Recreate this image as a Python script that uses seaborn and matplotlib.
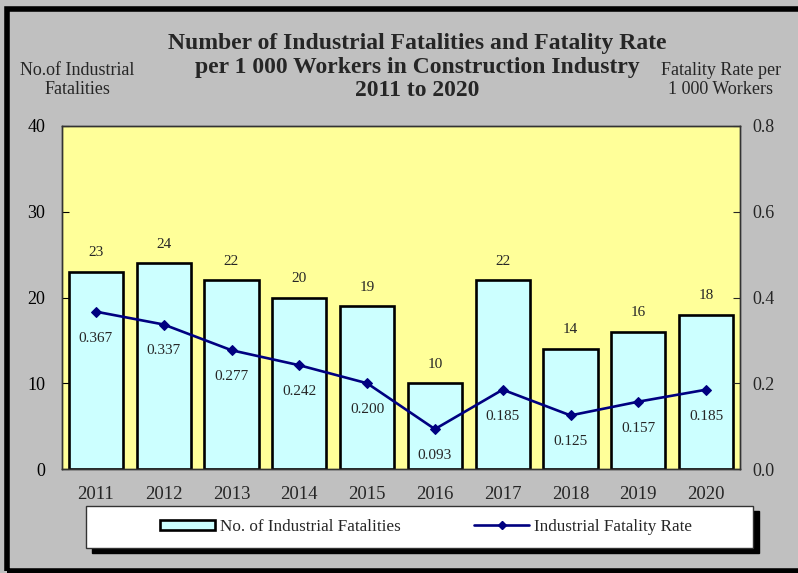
import matplotlib
matplotlib.use("Agg")
import matplotlib.pyplot as plt
from matplotlib.patches import Rectangle, Patch
from matplotlib.lines import Line2D
import numpy as np
import pandas as pd
import seaborn as sns

years = ["2011", "2012", "2013", "2014", "2015", "2016", "2017", "2018", "2019", "2020"]
fatalities = [23, 24, 22, 20, 19, 10, 22, 14, 16, 18]
rates = [0.367, 0.337, 0.277, 0.242, 0.200, 0.093, 0.185, 0.125, 0.157, 0.185]
rate_labels = ["0.367", "0.337", "0.277", "0.242", "0.200", "0.093", "0.185", "0.125", "0.157", "0.185"]

df = pd.DataFrame({"year": years, "fatalities": fatalities, "rate": rates})

sns.set_style("white")
plt.rcParams["font.family"] = ["Liberation Serif", "DejaVu Serif"]

W, H = 798, 573
fig = plt.figure(figsize=(W / 100, H / 100), dpi=100, facecolor="#c0c0c0")
ax = fig.add_axes([62 / W, 1 - 469 / H, (740 - 62) / W, (469 - 126) / H])
ax.set_facecolor("#ffff99")

sns.barplot(data=df, x="year", y="fatalities", ax=ax, color="#ccffff",
            edgecolor="black", linewidth=1.9, width=0.8, saturation=1)
ax.set_ylim(0, 40)
ax.set_xlim(-0.5, 9.5)
ax.set_yticks([0, 10, 20, 30, 40])
ax.set_xlabel("")
ax.set_ylabel("")
ax.tick_params(axis="y", direction="in", length=5, pad=12, labelsize=13, colors="black")
ax.tick_params(axis="x", length=0, pad=12, labelsize=13.5)
ax.set_xticks(np.arange(-0.5, 10, 1), minor=True)
ax.tick_params(axis="x", which="minor", direction="in", length=5)
for s in ax.spines.values():
    s.set_color("#333333")
    s.set_linewidth(1)

for i, v in enumerate(fatalities):
    ax.annotate(str(v), (i, v), xytext=(0, 9), textcoords="offset points",
                ha="center", va="bottom", fontsize=11)

ax2 = ax.twinx()
sns.lineplot(x=np.arange(len(years)), y=rates, ax=ax2, color="#000080",
             linewidth=1.9, marker="D", markersize=5.5, markeredgecolor="#000080")
ax2.set_ylim(0, 0.8)
ax2.set_yticks([0.0, 0.2, 0.4, 0.6, 0.8])
ax2.set_yticklabels(["0.0", "0.2", "0.4", "0.6", "0.8"])
ax2.tick_params(axis="y", direction="in", length=5, pad=9, labelsize=13)
for s in ax2.spines.values():
    s.set_color("#333333")
    s.set_linewidth(1)

for i, (v, lab) in enumerate(zip(rates, rate_labels)):
    ax2.annotate(lab, (i, v), xytext=(0, -19), textcoords="offset points",
                 ha="center", va="center", fontsize=11)

fig.text(417 / W, 1 - 67 / H, "Number of Industrial Fatalities and Fatality Rate\n"
         "per 1 000 Workers in Construction Industry\n2011 to 2020",
         ha="center", va="center", fontsize=17, fontweight="bold", linespacing=1.15)
fig.text(77 / W, 1 - 80 / H, "No.of Industrial\nFatalities", ha="center", va="center",
         fontsize=13, linespacing=1.1)
fig.text(721 / W, 1 - 80 / H, "Fatality Rate per\n1 000 Workers", ha="center", va="center",
         fontsize=13, linespacing=1.1)

# legend box with shadow
fig.patches.append(Rectangle((92 / W, 1 - 553 / H), (753 - 86) / W, 42 / H,
                             transform=fig.transFigure, facecolor="black",
                             edgecolor="black", zorder=1))
fig.patches.append(Rectangle((86 / W, 1 - 548 / H), (753 - 86) / W, 42 / H,
                             transform=fig.transFigure, facecolor="white",
                             edgecolor="#333333", linewidth=1, zorder=2))
handles = [Patch(facecolor="#ccffff", edgecolor="black", linewidth=1.9),
           Line2D([], [], color="#000080", linewidth=1.9, marker="D", markersize=4)]
fig.legend(handles, ["No. of Industrial Fatalities", "Industrial Fatality Rate"],
           loc="center left", bbox_to_anchor=(145 / W, 1 - 527 / H), ncol=2,
           frameon=False, fontsize=12.3, handlelength=3.2, handleheight=0.55,
           handletextpad=0.3, columnspacing=4.3)

# outer frame
fig.patches.append(Rectangle((7 / W, 2.5 / H), 1.0, 1 - 11 / H, transform=fig.transFigure,
                             fill=False, edgecolor="black", linewidth=4, zorder=3))

fig.savefig("out.png", dpi=100, facecolor=fig.get_facecolor())
